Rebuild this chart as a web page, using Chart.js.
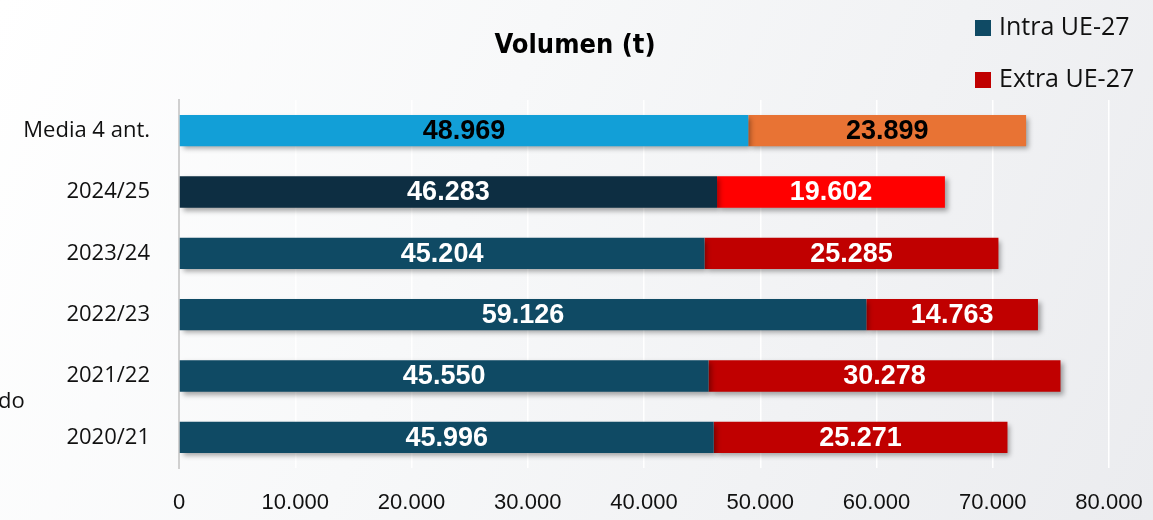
<!DOCTYPE html>
<html>
<head>
<meta charset="utf-8">
<script src="https://cdn.jsdelivr.net/npm/chart.js@4.4.1/dist/chart.umd.min.js"></script>
<style>
  html, body { margin: 0; padding: 0; background: #fff; }
  #wrap { width: 1153px; height: 520px; }
</style>
</head>
<body>
<div id="wrap"><canvas id="grafico" width="1153" height="520"></canvas></div>
<script>
// datos
const campanas = ['Media 4 ant.', '2024/25', '2023/24', '2022/23', '2021/22', '2020/21'];
const intraUE = [48969, 46283, 45204, 59126, 45550, 45996];
const extraUE = [23899, 19602, 25285, 14763, 30278, 25271];
const ticksX = [0, 10000, 20000, 30000, 40000, 50000, 60000, 70000, 80000];

const coloresIntra = ['#129fd7', '#0d2e42', '#0f4a64', '#0f4a64', '#0f4a64', '#0f4a64'];
const coloresExtra = ['#e87334', '#ff0000', '#c00000', '#c00000', '#c00000', '#c00000'];
const coloresTexto = ['#000000', '#ffffff', '#ffffff', '#ffffff', '#ffffff', '#ffffff'];

function formato(v) {
	return String(v).replace(/\B(?=(\d{3})+(?!\d))/g, '.');
}

const fondo = {
	id: 'fondo',
	beforeDraw(chart) {
		const c = chart.ctx;
		const g = c.createLinearGradient(0, 0, chart.width, chart.height);
		g.addColorStop(0, '#ffffff');
		g.addColorStop(0.4, '#f7f8f9');
		g.addColorStop(1, '#ebecef');
		c.save();
		c.fillStyle = g;
		c.fillRect(0, 0, chart.width, chart.height);
		c.restore();
	}
};

const sombra = {
	id: 'sombra',
	beforeDatasetsDraw(chart) {
		const c = chart.ctx;
		c.save();
		c.shadowColor = 'rgba(0,0,0,0.35)';
		c.shadowBlur = 5;
		c.shadowOffsetX = 3;
		c.shadowOffsetY = 3;
	},
	afterDatasetsDraw(chart) {
		chart.ctx.restore();
	}
};

const textos = {
	id: 'textos',
	afterDraw(chart) {
		const c = chart.ctx;
		c.save();
		// etiquetas de valor
		c.font = 'bold 27px "Liberation Sans", Arial, sans-serif';
		c.textAlign = 'center';
		c.textBaseline = 'middle';
		chart.data.datasets.forEach((ds, i) => {
			chart.getDatasetMeta(i).data.forEach((bar, j) => {
				const cx = (bar.x + bar.base) / 2;
				c.fillStyle = coloresTexto[j];
				c.fillText(formato(ds.data[j]), cx, bar.y + 1);
			});
		});
		// etiquetas del eje x
		const ex = chart.scales.x;
		c.fillStyle = '#111';
		c.font = '22px "Liberation Sans", Arial, sans-serif';
		ticksX.forEach(v => {
			c.fillText(formato(v), ex.getPixelForValue(v), 503);
		});
		// titulo
		c.fillStyle = '#000';
		c.font = 'bold 27px "DejaVu Sans Condensed", "DejaVu Sans", sans-serif';
		c.fillText('Volumen (t)', 575, 46);
		// leyenda
		c.textAlign = 'left';
		c.font = '25px "Open Sans", sans-serif';
		c.fillStyle = '#0f4a64';
		c.fillRect(975, 20, 16, 16);
		c.fillStyle = '#c00000';
		c.fillRect(975, 72, 16, 16);
		c.fillStyle = '#111';
		c.fillText('Intra UE-27', 999, 28);
		c.fillText('Extra UE-27', 999, 80);
		// texto cortado a la izquierda
		c.font = '22px "Open Sans", sans-serif';
		c.fillText('do', -2, 402);
		c.restore();
	}
};

new Chart(document.getElementById('grafico'), {
	type: 'bar',
	data: {
		labels: campanas,
		datasets: [{
			label: 'Intra UE-27',
			data: intraUE,
			backgroundColor: coloresIntra,
			borderWidth: 0,
			barPercentage: 0.51,
			categoryPercentage: 1
		}, {
			label: 'Extra UE-27',
			data: extraUE,
			backgroundColor: coloresExtra,
			borderWidth: 0,
			barPercentage: 0.51,
			categoryPercentage: 1
		}]
	},
	options: {
		indexAxis: 'y',
		responsive: false,
		animation: false,
		layout: { padding: { top: 100, right: 44, bottom: 0, left: 0 } },
		plugins: {
			legend: { display: false },
			tooltip: { enabled: false }
		},
		scales: {
			x: {
				stacked: true,
				min: 0,
				max: 80000,
				afterBuildTicks(axis) {
					axis.ticks = ticksX.map(v => ({ value: v }));
				},
				grid: { color: '#ffffff', lineWidth: 1.5, drawTicks: true, tickLength: 0 },
				border: { display: false },
				ticks: {
					display: false
				},
				afterFit(axis) { axis.height = 52; }
			},
			y: {
				stacked: true,
				grid: { display: false },
				border: { display: true, color: '#d0d0d0', width: 2 },
				ticks: {
					color: '#111',
					padding: 21,
					font: { family: '"Open Sans", sans-serif', size: 22 }
				},
				afterFit(axis) { axis.width = 179; }
			}
		}
	},
	plugins: [fondo, sombra, textos]
});
</script>
</body>
</html>
